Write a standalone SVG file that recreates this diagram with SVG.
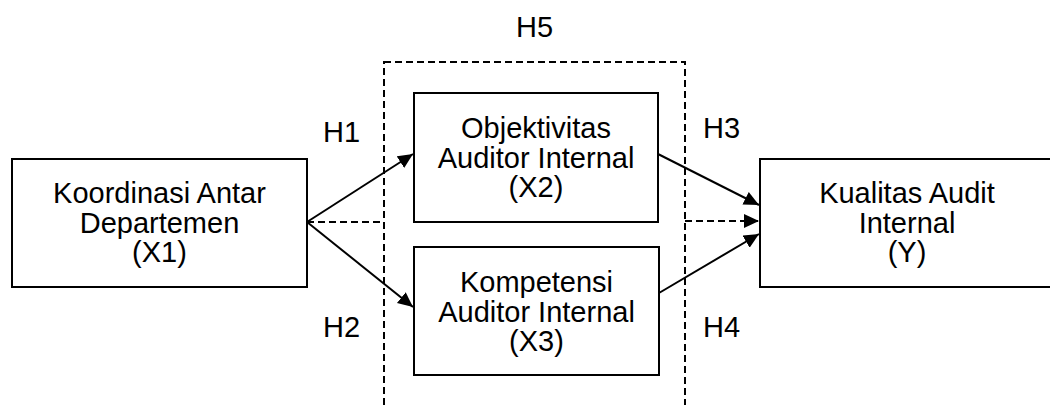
<svg xmlns="http://www.w3.org/2000/svg" width="1050" height="405" viewBox="0 0 1050 405">
<style>
.box{fill:#fff;stroke:#000;stroke-width:2}
.t{font-family:"Liberation Sans",Arial,sans-serif;font-size:29px;fill:#000}
.c{text-anchor:middle}
.ln{fill:none;stroke:#000;stroke-width:2}
.dash{fill:none;stroke:#000;stroke-width:2;stroke-dasharray:7,4}
</style>
<defs>
<marker id="ah" markerUnits="userSpaceOnUse" markerWidth="18" markerHeight="16" refX="15" refY="7" orient="auto">
<path d="M0,0 L15,7 L0,14 z" fill="#000"/>
</marker>
</defs>
<g id="connectors">
<rect x="384" y="62" width="301" height="360" class="dash"/>
<line x1="307" y1="222" x2="413" y2="154" class="ln" marker-end="url(#ah)"/>
<line x1="307" y1="222" x2="413" y2="307" class="ln" marker-end="url(#ah)"/>
<line x1="307" y1="222" x2="384" y2="222" class="dash"/>
<line x1="658" y1="154" x2="759" y2="205" class="ln" marker-end="url(#ah)"/>
<line x1="659" y1="293" x2="759" y2="234" class="ln" marker-end="url(#ah)"/>
<line x1="685" y1="221" x2="759" y2="221" class="dash" marker-end="url(#ah)"/>
</g>
<g id="labels">
<text class="t" x="516" y="37">H5</text>
<text class="t" x="323" y="142">H1</text>
<text class="t" x="323" y="337">H2</text>
<text class="t" x="703" y="138">H3</text>
<text class="t" x="703" y="337">H4</text>
</g>
<g id="x1">
<rect x="12" y="159" width="295" height="128" class="box"/>
<text class="t c" x="159.5" y="203">Koordinasi Antar</text>
<text class="t c" x="159.5" y="233">Departemen</text>
<text class="t c" x="159.5" y="262">(X1)</text>
</g>
<g id="x2">
<rect x="414" y="93" width="244" height="129" class="box"/>
<text class="t c" x="536" y="138">Objektivitas</text>
<text class="t c" x="536" y="168">Auditor Internal</text>
<text class="t c" x="536" y="197">(X2)</text>
</g>
<g id="x3">
<rect x="414" y="247" width="245" height="128" class="box"/>
<text class="t c" x="536.5" y="292">Kompetensi</text>
<text class="t c" x="536.5" y="322">Auditor Internal</text>
<text class="t c" x="536.5" y="351">(X3)</text>
</g>
<g id="y">
<rect x="760" y="159" width="300" height="128" class="box"/>
<text class="t c" x="907" y="203">Kualitas Audit</text>
<text class="t c" x="907" y="233">Internal</text>
<text class="t c" x="907" y="262">(Y)</text>
</g>
</svg>
